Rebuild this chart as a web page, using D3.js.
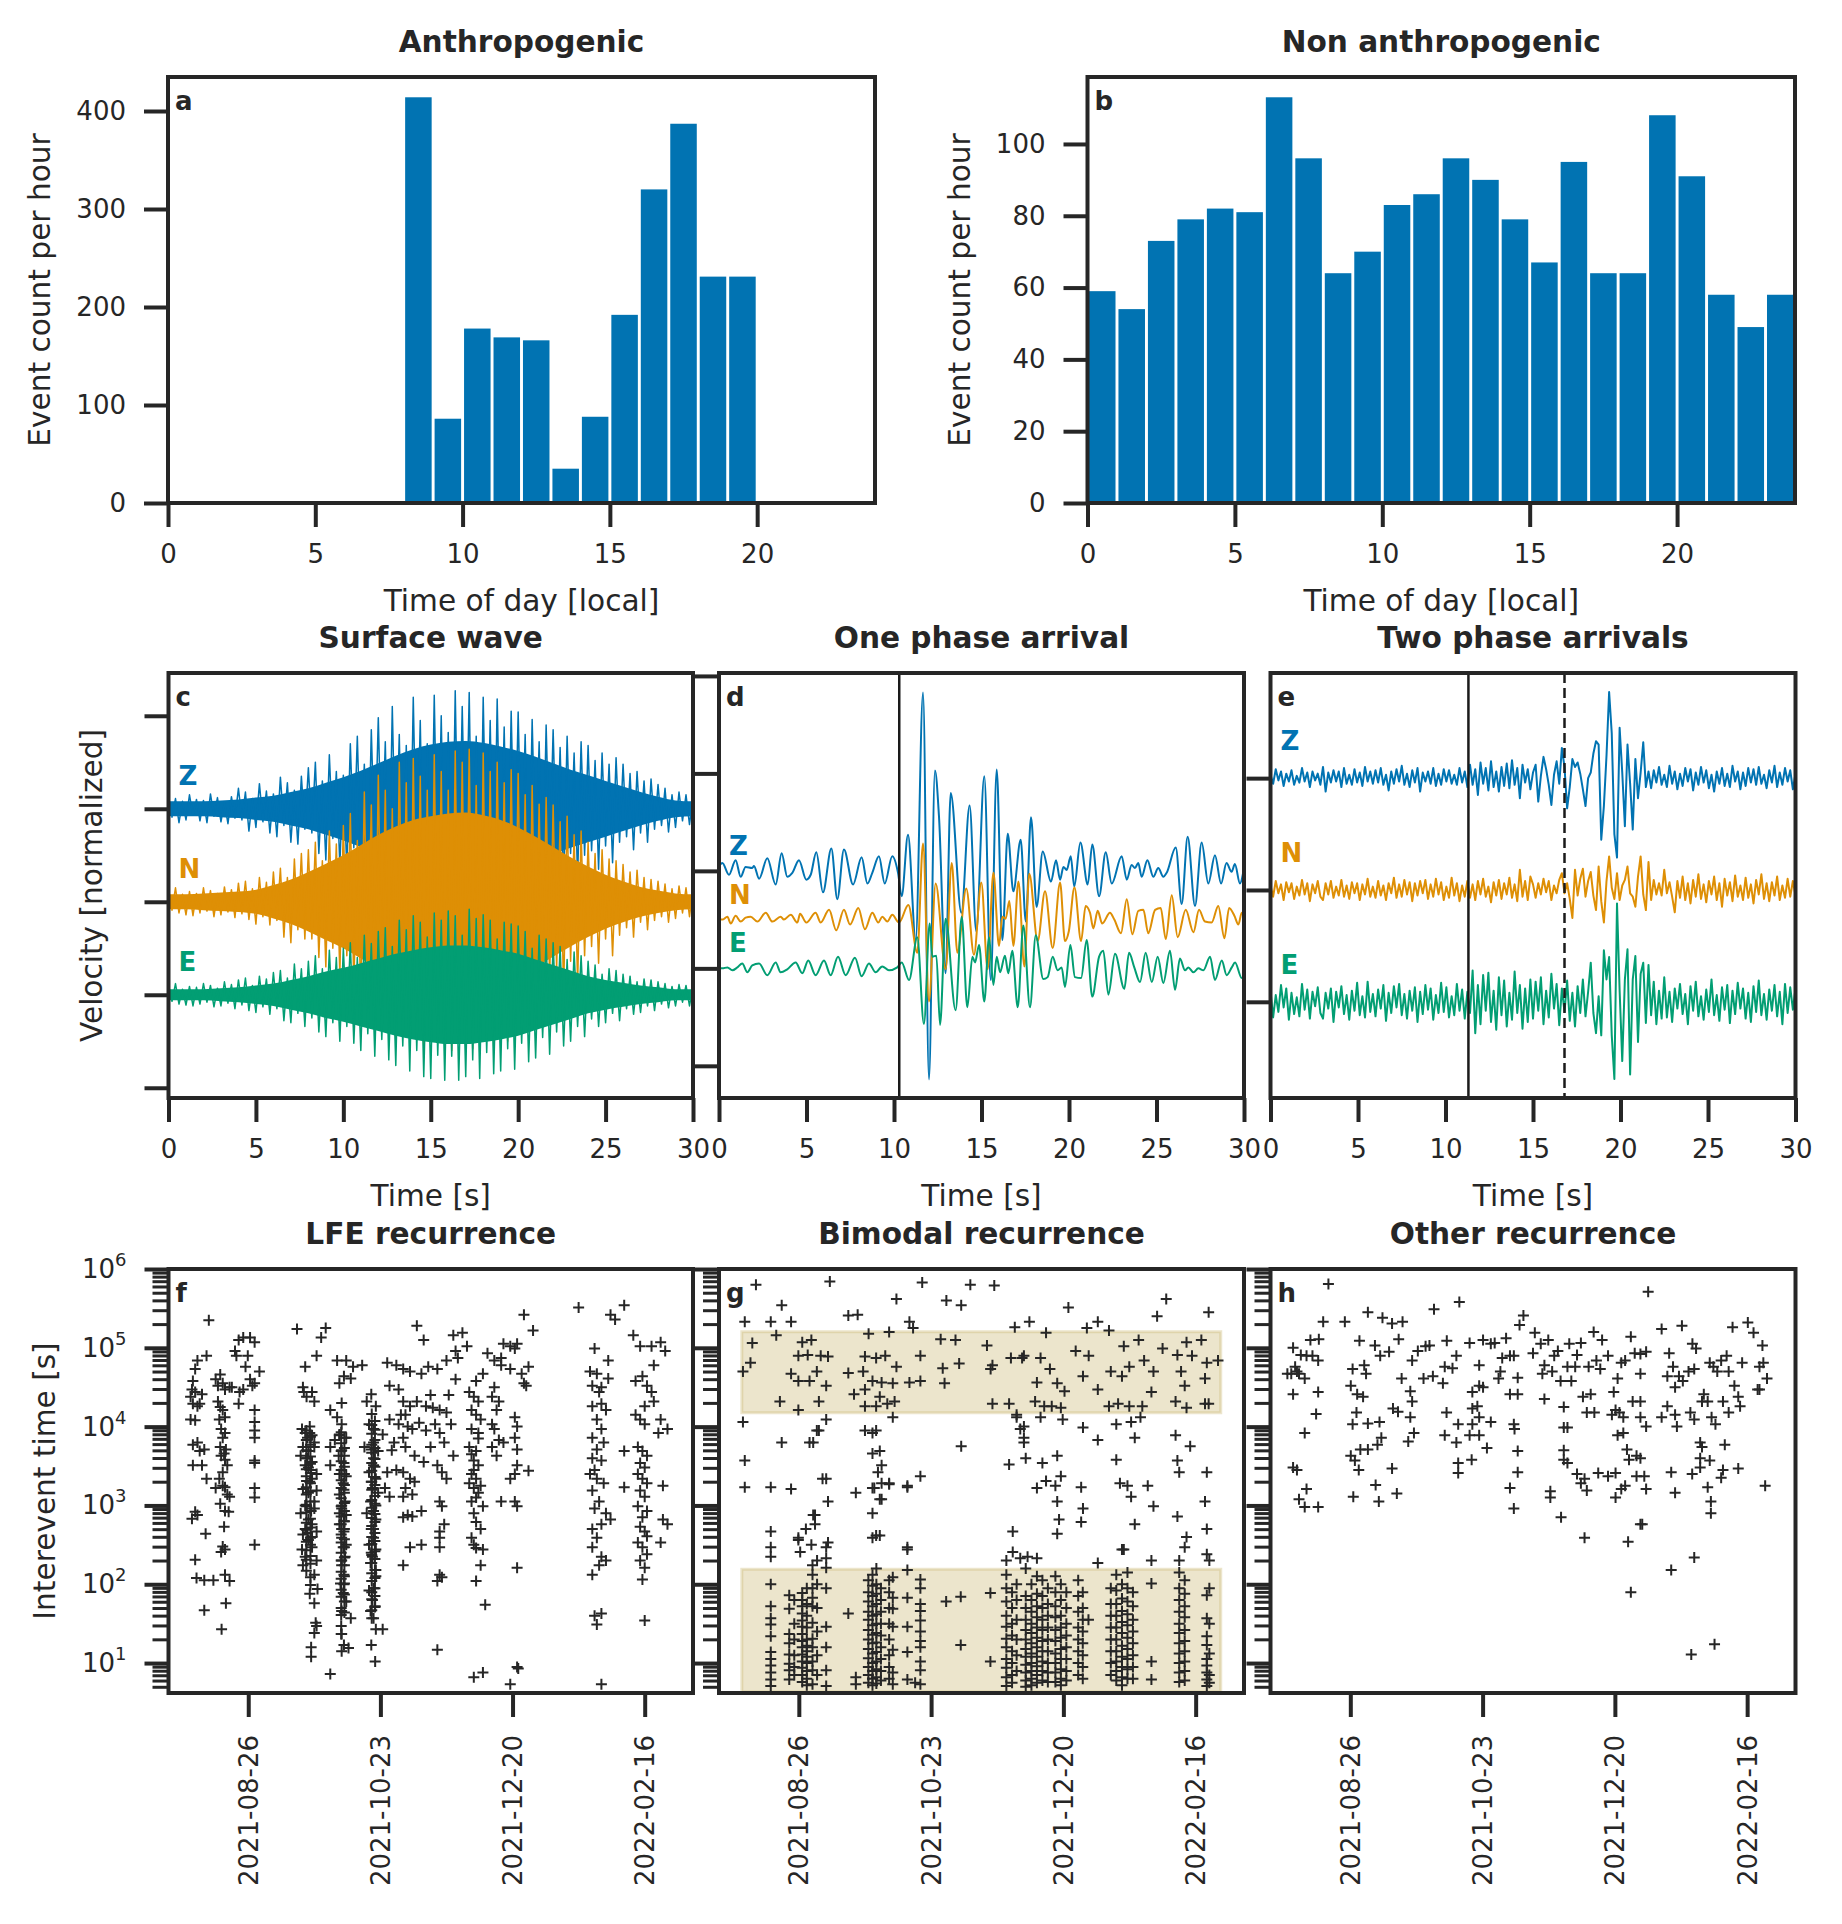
<!DOCTYPE html>
<html>
<head>
<meta charset="utf-8">
<script src="https://cdn.jsdelivr.net/npm/d3@7/dist/d3.min.js"></script>
<style>
  body { margin: 0; background: #fff; }
  svg { display: block; }
</style>
</head>
<body>
<svg id="fig" width="1842" height="1924"></svg>
<script>
// ---------- a / b : events per hour of day ----------
const hourBins = d3.range(24);
const anthroCounts = [0,0,0,0,0,0,0,0,414,86,178,169,166,35,88,192,320,387,231,231,0,0,0,0];
const naturalCounts = [59,54,73,79,82,81,113,96,64,70,83,86,96,90,79,67,95,64,64,108,91,58,49,58];
const hourTicks = [0,5,10,15,20];
const anthroYTicks = [0,100,200,300,400];
const naturalYTicks = [0,20,40,60,80,100];

// ---------- c : surface wave (hundredths of a trace unit) ----------
const surfCoreDt = 1;   // s
const surfDt = 0.2;     // s
const surfZCore = [8,8,8,9,10,12,14,18,22,28,34,41,49,57,64,69,72,73,71,67,62,56,49,42,36,30,24,18,13,9,8];
const surfNCore = [8,8,9,10,11,13,18,24,32,41,50,61,72,81,88,92,95,96,93,88,80,70,59,48,38,29,22,16,12,9,8];
const surfECore = [6,6,6,7,8,10,12,16,20,25,29,34,39,44,48,51,53,53,51,48,44,38,32,26,20,16,13,10,8,6,6];
const surfZ = [14,-9,11,-15,8,-12,15,-7,10,-13, 9,-15,16,-8,12,-14,7,-16,13,-10,
  22,-12,18,-24,11,-20,27,-14,19,-26, 16,-30,34,-18,28,-36,20,-38,35,-22,
  44,-26,50,-48,30,-55,58,-32,40,-60, 36,-64,70,-42,78,-55,48,-80,85,-50,
  98,-60,72,-100,110,-65,80,-112,68,-105, 120,-75,95,-118,70,-110,122,-85,100,-120,
  82,-125,127,-90,110,-70,125,-118,78,-126, 120,-80,95,-115,118,-72,88,-110,105,-68,
  104,-70,80,-100,96,-60,72,-92,90,-58, 85,-55,66,-82,78,-48,60,-75,72,-50,
  68,-45,52,-65,60,-40,48,-58,55,-36, 48,-30,38,-44,40,-26,30,-36,32,-22,
  26,-18,22,-25,15,-20,18,-13,15,-17, 12];
const surfN = [13,-9,15,-12,8,-14,11,-15,9,-12, 15,-10,12,-16,9,-14,16,-11,13,-17,
  20,-13,22,-19,14,-24,26,-16,21,-25, 32,-20,36,-38,26,-44,46,-30,52,-40,
  56,-40,64,-60,44,-70,76,-50,62,-78, 82,-58,95,-90,66,-108,118,-80,104,-128,
  136,-95,120,-142,100,-146,150,-110,128,-150, 154,-112,135,-156,120,-150,158,-118,140,-155,
  120,-160,162,-130,150,-115,164,-158,125,-162, 160,-118,140,-156,150,-110,128,-150,142,-105,
  138,-100,115,-132,125,-90,105,-120,112,-85, 104,-72,86,-98,92,-64,72,-88,76,-58,
  64,-48,52,-66,56,-40,46,-58,44,-36, 40,-28,32,-38,34,-22,26,-30,24,-20,
  22,-16,19,-22,14,-18,17,-12,15,-16, 14];
const surfE = [10,-7,12,-10,6,-11,9,-12,8,-10, 12,-8,10,-13,7,-12,14,-9,11,-15,
  16,-11,18,-17,10,-19,20,-13,17,-21, 24,-15,26,-28,18,-30,33,-20,28,-34,
  36,-25,42,-40,28,-45,48,-30,40,-50, 50,-34,56,-52,40,-60,64,-42,55,-66,
  68,-48,72,-70,52,-76,80,-55,70,-82, 85,-60,78,-88,62,-90,88,-65,80,-92,
  90,-66,85,-92,64,-88,92,-70,82,-90, 86,-62,80,-85,60,-82,78,-58,76,-80,
  74,-52,68,-72,50,-68,64,-46,60,-64, 56,-40,52,-55,38,-50,46,-34,42,-45,
  36,-26,32,-34,22,-30,28,-20,26,-28, 22,-15,20,-21,14,-19,17,-12,16,-17,
  14,-10,12,-14,9,-12,11,-8,10,-12, 9];

// ---------- d : one phase arrival, [time s, amplitude] ----------
const onePhaseZ = [[0,5],[0.19,8],[0.57,-4],[0.95,11],[1.24,-6],[1.52,4],[1.9,3],[2.0,5],[2.29,-8],[2.76,13],[3.24,-14],[3.58,18],[3.9,-6],[4.19,-2],[4.57,11],[4.99,-9],[5.24,-4],[5.56,19],[5.94,-22],[6.42,23],[6.76,-29],[7.14,22],[7.66,-14],[8.15,14],[8.48,-13],[8.76,-2],[9.14,15],[9.47,-13],[9.9,15],[10.23,-2],[10.44,-26],[10.8,37],[11.24,-71],[11.66,183],[12.0,-214],[12.34,103],[12.57,56],[12.95,-105],[13.24,80],[13.85,-43],[14.32,67],[14.7,-62],[15.16,97],[15.53,-112],[15.87,104],[16.19,-71],[16.5,38],[16.82,-21],[17.24,32],[17.53,-52],[17.83,55],[18.15,-37],[18.5,20],[18.97,-11],[19.26,11],[19.49,-9],[19.68,4],[19.87,1],[20.1,15],[20.3,-16],[20.65,29],[21.07,-14],[21.33,27],[21.72,-26],[22.1,19],[22.44,-13],[23.01,15],[23.3,-9],[23.58,6],[23.77,3],[23.96,8],[24.15,-6],[24.48,11],[24.82,-6],[25.1,3],[25.39,-6],[25.58,-2],[26.1,24],[26.44,-34],[26.78,35],[27.2,-36],[27.58,29],[27.96,-13],[28.34,16],[28.69,-13],[29.0,8],[29.29,-1],[29.48,7],[29.77,-13],[29.96,-1]];
const onePhaseN = [[0,0],[0.19,0],[0.48,3],[0.67,-4],[0.95,4],[1.24,-2],[1.52,2],[1.81,3],[2.19,-2],[2.67,7],[3.05,-2],[3.52,3],[3.71,0],[4.1,5],[4.48,-3],[4.63,6],[4.99,-3],[5.52,7],[5.81,-3],[6.29,10],[6.7,-11],[7.14,10],[7.49,-5],[7.96,12],[8.34,-10],[8.76,7],[9.1,-3],[9.33,3],[9.62,-2],[9.9,5],[10.29,-3],[10.82,15],[11.33,-34],[11.66,78],[12.0,-84],[12.38,37],[12.95,-51],[13.3,58],[13.62,-34],[14.13,32],[14.57,-36],[14.99,38],[15.35,-51],[15.68,48],[16.0,-27],[16.19,3],[16.38,1],[16.59,19],[16.82,-27],[17.11,39],[17.45,-48],[17.73,47],[18.21,-22],[18.63,29],[19.07,-29],[19.49,38],[19.77,-22],[19.99,-12],[20.31,33],[20.69,-22],[20.95,14],[21.2,7],[21.39,-9],[21.64,9],[21.9,-4],[22.34,7],[22.59,0],[22.97,-14],[23.3,21],[23.62,-15],[23.96,9],[24.25,10],[24.53,-14],[24.92,10],[25.24,12],[25.53,-20],[25.87,25],[26.21,-18],[26.67,10],[27.11,-13],[27.43,10],[27.77,-2],[28.15,-3],[28.53,14],[28.88,-19],[29.15,12],[29.45,4],[29.68,-5],[29.87,7],[30,4]];
const onePhaseE = [[0,0],[0.19,0],[0.48,1],[0.76,-2],[1.05,1],[1.33,5],[1.62,-4],[1.9,3],[2.29,5],[2.76,-7],[3.24,6],[3.52,-4],[3.9,-1],[4.38,6],[4.76,-5],[5.1,8],[5.52,-7],[6.0,8],[6.38,-7],[6.8,12],[7.24,-7],[7.77,11],[8.15,-8],[8.57,5],[8.95,-4],[9.33,2],[9.71,-2],[10.19,1],[10.44,6],[10.86,-12],[11.33,32],[11.71,-57],[12.04,46],[12.19,12],[12.42,13],[12.63,-58],[12.95,51],[13.52,-43],[13.87,53],[14.19,-40],[14.48,12],[14.63,6],[14.86,24],[15.16,-34],[15.43,32],[15.68,-17],[15.87,12],[16.06,-4],[16.34,13],[16.53,-5],[16.76,18],[17.07,-40],[17.39,44],[17.77,-40],[18.1,34],[18.53,-11],[18.78,-9],[19.07,12],[19.35,-2],[19.58,1],[19.77,-19],[20.08,24],[20.34,-9],[20.69,-10],[21.01,29],[21.33,-29],[21.72,12],[21.96,18],[22.25,-27],[22.63,15],[23.16,-21],[23.43,16],[23.73,1],[24.06,-14],[24.38,16],[24.73,-14],[25.07,12],[25.39,-15],[25.77,18],[26.06,-22],[26.34,10],[26.63,-2],[26.82,1],[27.11,-4],[27.39,0],[27.68,-2],[28.06,12],[28.34,-12],[28.73,8],[29.01,-7],[29.3,1],[29.49,6],[29.87,-10],[30,-5]];
const onePhasePicks = [10.3];

// ---------- e : two phase arrivals, sampled every 0.15 s ----------
const twoPhaseDt = 0.15;
const twoPhaseZ = [3,-5,8,-2,6,-7,4,-3,7,-6,2,-4,9,-3,5,-8,6,-2,4,-6,
  10,-12,5,-4,7,-3,6,-8,9,-5,3,-6,8,-4,5,-7,10,-3,6,-5,
  7,-4,9,-6,3,-11,6,-5,8,-3,11,-6,4,-8,7,-4,9,-12,5,-3,
  6,-5,9,-7,4,-6,8,-3,7,-5,3,-6,9,-4,6,-8,
  12,-6,8,-15,14,-5,9,-11,15,-8,6,-12,10,-7,13,-9,16,-6,9,-18,12,-4,8,-10,
  5,12,-21,2,19,8,-6,-24,3,15,-5,27,10,-27,-8,17,10,14,4,-10,-25,0,
  5,22,33,30,-55,-25,20,77,40,-50,-71,45,5,-43,30,-5,-46,17,-18,5,32,-8,6,
  -9,7,-4,10,-6,3,-8,11,-5,6,-10,4,-7,9,-3,8,-11,5,-6,10,-4,7,-9,3,-12,6,-5,9,-7,4,
  -8,11,-3,6,-10,5,-7,9,-4,8,-6,10,-5,3,-9,7,-4,11,-8,5,-6,9,-3,7,-10,4];
const twoPhaseN = [4,-6,8,-3,5,-9,7,-2,6,-8,3,-5,9,-4,6,-10,5,-3,8,-6,
  -9,6,-4,8,-7,3,-5,9,-6,4,-8,7,-3,6,-9,5,-4,10,-6,3,
  -7,8,-5,4,-9,6,-3,11,-7,5,-6,9,-4,7,-10,6,-5,8,-3,9,
  -8,5,-6,10,-4,7,-9,3,-7,11,-5,6,-10,4,-6,8,
  -7,5,-9,8,-4,10,-6,3,-11,7,-5,9,-8,6,-4,11,-7,5,-10,18,-6,8,-9,12,
  5,-7,6,-4,10,-2,8,-9,4,-3,9,15,-3,6,-8,-25,18,-5,10,19,-6,8,
  16,-5,-18,21,-10,-29,8,30,2,-8,15,-9,4,9,21,-3,-6,-15,12,30,-4,-18,25,-9,9,-4,6,-5,18,-3,7,-6,-20,8,-7,12,-9,6,-12,
  9,-6,14,-8,5,-11,8,-4,12,-9,6,-15,10,-5,7,-10,13,-6,4,-9,11,-7,5,-12,9,-4,14,-8,6,-10,7,-5,12,-9,4,-7,10,-6,8,-5];
const twoPhaseE = [10,-14,6,-9,15,-5,12,-16,8,-11,4,-13,16,-7,11,-15,9,-4,13,-10,
  -15,8,-6,12,-18,9,-5,14,-11,6,-16,10,-8,17,-12,5,-14,18,-9,7,
  -13,11,-6,15,-17,8,-10,14,-5,16,-12,7,-15,10,-8,13,-18,9,-11,15,
  -7,12,-16,6,-10,17,-9,13,-14,5,-12,16,-8,11,-15,9,
  -10,28,-28,15,-20,24,-8,26,-18,10,-25,22,-12,19,-22,8,-16,27,-10,15,-24,12,-18,20,
  -15,18,-8,22,-20,10,-14,25,-6,16,-21,12,-9,19,-17,8,-22,14,-10,20,-13,9,
  35,-10,-28,5,-30,46,20,40,-30,-69,88,10,-53,20,47,-65,20,41,-36,25,35,-19,33,-12,18,-20,10,-15,22,
  -14,9,-18,12,-6,16,-11,7,-20,14,-8,18,-13,5,-16,11,-9,20,-12,6,-17,13,-7,15,-19,10,-11,17,-6,12,
  -15,8,-18,14,-9,19,-12,7,-16,11,-8,15,-13,9,-20,16,-10,13,-7,12];
const twoPhasePicks = [11.31, 16.8];
const timeTicks = [0,5,10,15,20,25,30];

// ---------- f / g / h : interevent times, [days since 2021-07-22, log10 seconds] ----------
const recStartISO = "2021-07-22";
const recSpanDays = 230.2;
const dateTicks = ["2021-08-26","2021-10-23","2021-12-20","2022-02-16"];
const logMajor = [1e1,1e2,1e3,1e4,1e5,1e6];

const lfePts = [[17.7,5.35],[16.7,4.9],[12.7,4.84],[11.7,4.73],[10.7,4.58],[10.3,4.47],[9.7,4.38],[11.7,4.44],[14.7,4.41],[10.7,4.29],[12.7,4.26],[13.7,4.29],[9.7,4.09],[11.7,4.08],[10.7,3.77],[12.7,3.8],[15.7,3.71],[13.7,3.69],[10.7,3.51],[14.7,3.51],[16.7,3.34],[11.7,2.92],[12.7,2.88],[10.3,2.83],[16.3,2.64],[11.7,2.31],[12.3,2.08],[15.7,2.05],[19.7,2.05],[15.7,1.67],
[20.7,4.6],[21.7,4.52],[22.7,4.66],[23.8,4.55],[24.8,4.47],[26.8,4.5],[21.7,4.32],[22.7,4.25],[23.8,4.21],[24.8,4.12],[22.3,4.09],[23.1,3.97],[24.8,3.92],[23.8,3.86],[22.7,3.74],[25.2,3.71],[24.4,3.66],[23.1,3.63],[24.8,3.58],[25.8,3.51],[23.8,3.42],[22.3,3.34],[23.8,3.25],[20.7,3.22],[24.8,3.23],[25.8,3.14],[26.8,3.11],[22.7,3.02],[24.8,2.93],[26.4,2.92],[24.4,2.73],[23.8,2.48],[24.8,2.44],[23.1,2.41],[24.8,2.12],[26.8,2.04],[25.2,1.76],[23.3,1.43],
[27.8,4.5],[29.8,4.9],[29.2,4.96],[30.8,5.1],[32.8,5.13],[35.8,5.13],[37.8,5.07],[39.9,4.7],[34.8,4.9],[33.8,4.76],[31.2,4.44],[30.8,4.29],[32.8,4.47],[37.8,4.55],[35.8,4.6],[36.8,4.52],
[37.8,4.21],[37.8,4.06],[37.8,3.95],[37.8,3.86],[37.8,3.57],[37.8,3.54],[37.8,3.22],[37.8,3.1],[37.8,2.5],
[56.4,5.24],[69,5.25],[67,5.13],[65,4.9],[60,4.76],[59,4.5],[59.4,4.44],[60.6,4.38],[63,4.44],[64,4.32],[58.6,3.97],[60,3.92],[61,3.86],[62,3.92],[63,3.89],[59,3.74],[58,3.63],[61.4,3.69],[64,3.74],[60,3.51],[61.4,3.48],[62.6,3.45],[60.6,3.31],[63,3.34],[59,3.21],[61.4,3.16],[65,3.19],[58,2.9],[60.6,2.99],[62.6,2.93],[64,2.96],[61.4,2.82],[63,2.76],[60,2.7],[59,2.63],[65,2.67],[61.4,2.56],[63,2.47],[58.6,2.44],[60,2.35],[65,2.3],[59,2.24],[64,2.12],[65.4,1.94],[62,1.88],[64,1.76],[64.6,1.51],[65,1.47],[64,1.38],[62.6,1.2],[62.6,1.08],[61,3.6],[63,3.55],[62,3.3],[64,3.05],[61,2.65],[63,2.6],[60,3.0],[65,3.4],[62,4.0],[64,3.8],
[71,0.86],[74,4.84],[78,4.84],[81,4.76],[77,4.64],[75,4.55],[80,4.61],[71,4.21],[74,4.12],[76,4.03],[75,3.89],[78,3.86],[73,3.83],[71,3.74],[74.7,3.63],[77,3.54],[71,3.51],[76,3.45],[78,3.37],[76.7,3.28],[75,3.14],[77.5,3.05],[76,2.96],[78,2.88],[75,2.76],[77,2.67],[76,2.59],[76.7,2.47],[77.5,2.35],[76,2.24],[77,2.12],[75.5,2.01],[76.7,1.89],[78,1.78],[76,1.66],[80,1.57],[76,1.37],[77,1.23],[79,1.19],[76,1.15],[76,3.0],[77,3.2],[75,3.4],[76,3.7],[77,2.8],[75,2.9],[76,2.3],[77,2.0],[76,2.7],[78,2.5],[75,3.9],[76,4.3],
[85,4.78],[87,4.32],[89,4.41],[91,4.26],[88,4.03],[90,3.97],[86,3.74],[89,3.71],[92,3.69],[90,3.51],[88,3.42],[91,3.34],[89.5,3.22],[92,3.16],[88.7,3.05],[90,2.93],[87,2.9],[91,2.82],[89,2.7],[90,2.59],[88,2.5],[91,2.44],[89.5,2.35],[88.7,2.27],[91,2.18],[90,1.95],[88,1.92],[89.5,1.8],[90.7,1.72],[88.7,1.66],[90,1.57],[91,1.43],[94,1.43],[89,1.23],[90.7,1.02],[90,3.8],[89,3.3],[91,3.0],[90,2.7],[89,2.4],[91,2.1],[90,3.6],
[96,4.81],[100,4.78],[103,4.73],[109,5.28],[112,5.1],[106,4.7],[111,4.67],[114,4.76],[118,4.73],[122,4.84],[125,5.16],[129,5.19],[126,4.96],[127,4.87],[131,5.02],[97,4.52],[101,4.47],[103,4.32],[106,4.26],[104,4.15],[109,4.32],[113,4.26],[116,4.24],[119,4.21],[122,4.18],[97,4.09],[101,4.03],[105,4.0],[107,3.97],[103,3.86],[99,3.8],[104,3.74],[108,3.63],[117,4.03],[119,3.92],[121,3.8],[124,4.03],[125,3.63],[115,3.74],[118,3.51],[120,3.42],[122,3.34],[103,3.42],[106,3.34],[104,3.22],[107,3.14],[103,3.11],[105,2.88],[107,2.86],[111,2.93],[103,2.85],[97,3.11],[95,3.22],[96,3.42],[119,3.05],[120,2.99],[121,2.76],[119,2.67],[119,2.59],[119,2.47],[106,2.47],[103,2.24],[111,2.5],[119,2.12],[120,2.09],[118,2.04],[118,1.17],[110,4.05],[113,3.95],[102,4.15],[98,3.7],[112,3.55],[115,4.4],[123,4.4],[126,4.6],[100,3.45],[108,3.3],[94,3.9],
[135,4.58],[138,4.67],[132,4.44],[134,4.38],[136,4.32],[133,4.21],[135,4.15],[137,4.09],[133,3.97],[136,3.92],[132,3.74],[135,3.69],[134,3.57],[136,3.51],[133,3.4],[135,3.34],[132,3.28],[134,3.22],[137,3.25],[136,3.16],[133,3.05],[138,2.99],[135,2.79],[137,2.7],[133,2.59],[134,2.5],[135,2.46],[138,2.44],[137,2.24],[135,2.04],[139,1.74],[134,0.82],[138,0.88],[134,3.45],[135,3.1],[133,3.65],[136,3.85],[134,2.9],
[140,4.93],[143,4.84],[146,4.87],[147,5.05],[150,5.02],[153,5.05],[156,5.42],[160,5.22],[152,4.99],[146,4.78],[150,4.73],[155,4.67],[157,4.52],[143,4.5],[142,4.38],[145,4.32],[144,4.21],[142,4.03],[143,3.97],[145,3.83],[142,3.74],[147,3.8],[144,3.63],[152,4.12],[153,4.0],[152,3.86],[153,3.71],[153,3.51],[152,3.4],[158,3.44],[150,3.34],[146,3.05],[152,3.05],[153,2.99],[153,2.21],[150,0.73],[153,0.95],[153.5,0.93],[158,4.76],[156,4.55],
[180,5.51],[194,5.42],[196,5.36],[200,5.54],[204,5.16],[187,4.99],[193,4.84],[185,4.7],[188,4.67],[186,4.52],[190,4.5],[193,4.61],[189,4.44],[186,4.26],[190,4.29],[192,4.21],[188,4.09],[190,3.97],[186,3.86],[191,3.8],[188,3.71],[186,3.6],[190,3.57],[187,3.45],[185,3.4],[188,3.34],[191,3.28],[186,3.19],[189,3.05],[187,2.96],[192,2.9],[194,2.82],[190,2.76],[186,2.7],[188,2.59],[186,2.47],[190,2.35],[192,2.3],[189,2.24],[186,2.12],[187,1.6],[190,1.63],[188,1.49],[190,0.73],
[207,5.02],[212,5.02],[216,5.07],[218,4.96],[213,4.78],[205,4.58],[208,4.64],[210,4.52],[212,4.44],[213,4.32],[209,4.26],[205,4.15],[207,4.09],[209,4.03],[216,4.09],[219,3.97],[215,3.92],[206,3.74],[208,3.69],[210,3.63],[207,3.54],[209,3.48],[206,3.4],[208,3.34],[210,3.28],[207,3.19],[209,3.11],[206,2.99],[210,2.93],[208,2.85],[207,2.73],[209,2.67],[210,2.61],[206,2.53],[208,2.47],[210,2.38],[207,2.3],[209,2.21],[208,2.06],[217,3.25],[217,2.82],[219,2.76],[216,2.53],[200,3.69],[200,3.23],[209,1.54]];

// dense stripes of panel f: [day, [log10 s, ...]]
const lfeCols = [
 [60.5,[3.95,3.83,3.7,3.6,3.46,3.37,3.23,3.14,3.01,2.91,2.78,2.69,2.54,2.43,2.31,2.17]],
 [62.3,[3.87,3.77,3.62,3.53,3.41,3.28,3.18,3.05,2.96,2.83,2.72,2.59,2.5,2.36,2.26,2.09,1.99]],
 [75.8,[3.93,3.79,3.69,3.56,3.45,3.32,3.22,3.09,2.99,2.86,2.76,2.63,2.53,2.4,2.3,2.16,2.07,1.93,1.84,1.7,1.61,1.47,1.37]],
 [77.2,[3.86,3.73,3.63,3.49,3.4,3.26,3.16,3.03,2.93,2.8,2.7,2.57,2.47,2.34,2.24,2.1,2.01,1.87,1.78,1.64]],
 [89.2,[4.16,4.02,3.91,3.77,3.67,3.54,3.44,3.3,3.2,3.07,2.97,2.84,2.74,2.6,2.51,2.37,2.27,2.14,2.04,1.9,1.81,1.67,1.57]],
 [90.6,[4.07,3.96,3.83,3.73,3.59,3.49,3.36,3.26,3.12,3.02,2.89,2.79,2.65,2.55,2.42,2.32,2.18,2.08,1.95,1.85,1.71]]
];

const bimodalPts = [[16.2,5.8],[48.6,5.84],[89.1,5.83],[110.2,5.8],[120.7,5.79],[77.8,5.62],[99.7,5.6],[106.2,5.54],[27.5,5.54],[11.3,5.33],[22.7,5.33],[31.6,5.33],[56.7,5.41],[60.8,5.42],[83.5,5.33],[85.1,5.25],[153.2,5.51],[196.1,5.62],[192.1,5.4],[214.7,5.45],[129.7,5.26],[136.1,5.33],[143.4,5.19],[161.3,5.25],[166.1,5.33],[171,5.22],
[14.6,5.06],[13.8,4.81],[10.5,4.7],[25.1,5.16],[36.5,5.07],[40.5,5.1],[34.8,4.9],[38.9,4.91],[44.6,4.9],[47.8,4.89],[31.6,4.67],[34.8,4.58],[39.7,4.58],[42.9,4.7],[47,4.52],[26.7,4.32],[34.8,4.21],[43.8,4.32],[56.7,4.68],[65.6,5.18],[74.6,5.2],[64,4.89],[68.9,4.87],[72.9,4.9],[77.8,4.76],[63.2,4.7],[67.3,4.58],[71.3,4.56],[59.2,4.41],[64,4.47],[70.5,4.38],[76.2,4.55],[64,4.26],[68.9,4.26],[73.8,4.29],[77,4.32],[88.3,4.9],[88.3,4.58],[83.5,4.56],[98.9,4.55],[97.2,5.11],[103.7,5.1],[105.3,4.8],[98.1,4.74],[117.5,5.03],[119.9,4.78],[119.1,4.73],[119.9,4.29],[127.2,4.29],[128,4.87],[133.7,4.9],[141,4.87],[145.1,4.73],[139.4,4.56],[148.3,4.55],[151.5,4.45],[156.4,4.96],[162.1,4.9],[159.6,4.64],[166.1,4.47],[171.8,4.7],[177.5,5.02],[176.7,4.64],[179.9,4.76],[184,5.1],[186.4,4.84],[189.6,4.44],[194.5,4.99],[171,4.26],[175,4.29],[179.9,4.26],[185.6,4.26],[190.5,4.7],[201,4.91],[205,5.07],[207.4,4.9],[211.5,5.1],[213.9,4.81],[218.8,4.84],[213.1,4.61],[202.6,4.7],[204.2,4.52],[200.2,4.32],[205,4.24],[213.1,4.29],[138.6,4.32],[142.6,4.26],[145.9,4.26],[149.9,4.24],[130.5,4.15],[132.9,4.87],[141,4.12],[150.7,4.09],
[10.5,4.06],[11.3,3.57],[11.3,3.23],[22.7,3.23],[27.5,3.8],[31.6,3.21],[41.3,3.8],[43.8,3.95],[45.4,3.34],[47.8,3.05],[42.1,2.88],[38.1,2.7],[34.8,2.56],[47,4.09],[67.3,3.66],[71.3,3.51],[67.3,3.22],[71.3,3.28],[74.6,3.27],[70.5,3.08],[67.3,2.9],[68.9,2.62],[60,3.16],[82.6,3.23],[88.3,3.37],[106.2,3.75],[82.6,2.44],[127.2,3.52],[128.8,2.67],[134.5,3.6],[135.3,2.35],[133.7,3.8],[133.7,4.0],[141.8,3.54],[139.4,3.22],[143.4,3.31],[147.5,3.25],[148.3,3.63],[148.3,3.05],[149.1,2.82],[148.3,2.64],[149.9,3.37],[158.8,3.23],[159.6,2.96],[158.8,2.79],[159.6,3.99],[166.1,3.83],[174.2,3.58],[175.8,3.28],[179.1,3.25],[180.7,3.11],[182.3,2.76],[176.7,2.44],[188,3.25],[190.5,2.99],[201,3.57],[201.8,3.42],[201,2.86],[205,2.6],[204.2,2.47],[213.9,3.42],[213.1,3.05],[213.9,2.7],[213.9,2.38],[189.6,2.3],[166.1,2.27],[128.8,2.41],[132.1,2.33],[139.4,2.33],[177.5,2.44],[174.2,4.03],[182.3,3.86],[184.8,4.12],[180.7,4.06],[200.2,3.89],[206.6,3.75],[214.7,4.29],
[22.7,2.67],[22.7,2.47],[22.7,2.35],[34.8,2.59],[35.6,2.41],[41.3,2.88],[42.1,2.76],[40.5,2.5],[39.7,3.8],[42.9,3.95],[47,3.34],[47.8,2.53],[67.3,2.59],[70.5,2.62],[68.1,3.22],[69.7,3.42],[70.5,3.69],[71.3,3.08],[68.9,3.95],[67.3,3.92],[64,3.95],[74.6,3.28],[76.2,4.12],[82.6,3.25],[132.1,3.97],[133.7,3.86],[130.5,4.12]];

// dense short-interval columns of panel g: [day, [log10 s, ...]]
const bimodalCols = [
 [22.7,[2.0,1.72,1.57,1.49,1.34,1.14,1.05,0.97,0.88,0.79,0.71]],
 [30.8,[1.86,1.69,1.37,1.25,1.11,0.99,0.91,0.79]],
 [33,[1.8,1.5,1.3,1.1,0.95,0.85]],
 [36.5,[1.89,1.8,1.72,1.63,1.54,1.46,1.37,1.28,1.2,1.11,1.02,0.94,0.85,0.76]],
 [38.5,[1.95,1.75,1.6,1.45,1.3,1.22,1.15,1.08,1.0,0.9,0.8,0.72]],
 [41,[2.24,2.12,1.95,1.83,1.72,1.51,1.31,1.2,1.02,0.91,0.73]],
 [43,[2.3,2.0,1.7,1.4,1.1,0.85]],
 [47,[2.47,2.33,2.21,1.95,1.46,1.2,0.91,0.71]],
 [56.7,[1.63]],
 [60,[0.82,0.73]],
 [65.5,[2.05,1.9,1.78,1.65,1.55,1.42,1.3,1.18,1.06,0.95,0.85,0.75]],
 [67.3,[2.12,1.98,1.85,1.72,1.6,1.48,1.36,1.25,1.12,1.0,0.9,0.8,0.72]],
 [69,[2.2,2.0,1.88,1.75,1.62,1.5,1.38,1.26,1.14,1.02,0.92,0.82,0.74]],
 [71,[1.95,1.8,1.65,1.5,1.35,1.2,1.05,0.9,0.78]],
 [74.6,[2.05,1.9,1.7,1.5,1.3,1.1,0.95,0.8]],
 [76.2,[2.09,1.83,1.69,1.46,1.17,0.88,0.73]],
 [82.6,[2.47,2.18,1.83,1.46,1.14,0.79]],
 [86,[0.75]],
 [88.3,[2.06,1.95,1.75,1.66,1.54,1.4,1.28,1.2,1.02,0.91,0.73]],
 [99.6,[1.78]],
 [106,[1.84,1.23]],
 [119,[1.89,1.02]],
 [126,[2.3,2.12,1.95,1.78,1.6,1.46,1.31,1.2,1.05,0.94,0.82,0.71]],
 [128.5,[1.9,1.7,1.5,1.35,1.15,1.0,0.85,0.75]],
 [130.5,[2.0,1.8,1.55,1.3,1.1,0.9]],
 [134.5,[2.2,1.85,1.7,1.55,1.42,1.3,1.18,1.08,0.98,0.88,0.78,0.7]],
 [137,[2.0,1.8,1.65,1.5,1.38,1.25,1.12,1.0,0.9,0.8,0.72]],
 [139.4,[2.1,1.88,1.72,1.58,1.45,1.32,1.2,1.08,0.96,0.85,0.75]],
 [141.8,[2.05,1.85,1.7,1.55,1.42,1.28,1.15,1.02,0.9,0.78]],
 [144.2,[1.95,1.75,1.6,1.45,1.3,1.15,1.0,0.88,0.76]],
 [147.5,[2.1,1.9,1.72,1.58,1.42,1.28,1.12,1.0,0.88,0.76]],
 [149.9,[2.0,1.8,1.6,1.45,1.32,1.18,1.05,0.92,0.8,0.72]],
 [152.3,[1.9,1.7,1.5,1.35,1.2,1.05,0.9,0.78]],
 [157.5,[2.05,1.85,1.65,1.45,1.3,1.15,1.0,0.85]],
 [159.5,[1.9,1.7,1.55,1.4,1.25,1.1,0.95,0.8]],
 [162,[1.55]],
 [171.8,[1.95,1.75,1.6,1.45,1.3,1.15,1.0,0.85]],
 [174.2,[2.12,1.92,1.75,1.6,1.45,1.3,1.15,1.02,0.9,0.78]],
 [176.7,[2.0,1.82,1.66,1.52,1.38,1.22,1.08,0.95,0.82,0.72]],
 [179.1,[2.15,1.95,1.78,1.62,1.48,1.32,1.18,1.05,0.92,0.8]],
 [181.5,[1.9,1.72,1.55,1.4,1.25,1.1,0.95,0.8]],
 [189.6,[2.01,1.02,0.79]],
 [201.8,[2.3,2.15,1.95,1.8,1.65,1.5,1.38,1.25,1.12,1.0,0.88,0.76]],
 [204.2,[2.05,1.88,1.72,1.58,1.42,1.28,1.15,1.02,0.9,0.78]],
 [213.9,[1.86,1.57,1.34,1.23,1.05,0.97,0.88,0.79,0.71]],
 [215,[2.3,1.95,1.5,1.12,0.85,0.75]]
];
const bimodalBandDays = [10, 220];
const bimodalBands = [[15000, 160000], [4.3, 155]];

const otherPts = [[25.4,5.81],[23.1,5.33],[32.6,5.33],[42.7,5.45],[49.1,5.38],[53.3,5.31],[57.9,5.33],[71.7,5.49],[82.8,5.58],[110.9,5.41],[109.2,5.29],[165.6,5.71],[171.5,5.24],[180.4,5.28],[202.6,5.26],[209.3,5.32],[211.8,5.19],[215.7,5.03],[158,5.14],[141.7,5.2],[145.4,5.1],[115.9,5.19],
[9.9,5.0],[13.3,4.91],[15.8,4.9],[18.4,4.9],[20.9,4.84],[17.5,5.1],[21.2,5.11],[10.8,4.76],[9.1,4.67],[12.5,4.67],[15,4.61],[9.9,4.41],[20.9,4.44],[20,4.16],[15,3.92],[9.9,3.48],[11.6,3.45],[15.8,3.21],[12.5,3.08],[15,2.98],[20.9,2.98],[7.4,4.67],[11.6,4.7],
[39,5.09],[36,4.73],[41.1,4.78],[35.2,4.52],[41.9,4.67],[38,4.41],[40.6,4.38],[37.7,4.18],[36,4.03],[42.7,4.04],[47.8,4.06],[48.6,3.86],[46.9,3.77],[35.2,3.63],[39.4,3.71],[42.7,3.71],[37,3.57],[38.7,3.45],[53.3,3.47],[46.1,3.26],[36.3,3.11],[47.5,3.05],[55.4,3.15],[45.8,5.03],[48.1,4.9],[52,4.95],[56.2,5.11],[53.7,4.23],[55.9,4.19],[57.5,4.61],[61.3,4.45],[62.1,4.32],[61.3,4.12],[60.4,3.81],[62.9,3.92],[62.1,4.84],[64.6,4.96],[68,5.02],[69.7,5.03],[67.1,4.61],[71.2,4.64],[75.6,4.55],[76.4,4.76],[79.8,4.74],[77.3,5.09],[81.5,4.9],[77.2,4.18],[76.4,3.89],[81.5,3.8],[82.3,4.03],[82.3,3.54],[82.3,3.41],
[87.3,3.89],[88.5,4.03],[88.5,4.23],[88.5,4.44],[90.7,4.26],[91.5,4.52],[93.2,4.5],[91.5,4.78],[87.3,5.06],[93.2,5.1],[96.6,5.05],[98.3,5.06],[101.6,4.87],[105,4.9],[106.7,4.9],[103.3,5.12],[91.5,4.12],[96.6,4.06],[94.9,3.73],[88.2,3.58],[91.5,3.89],[100.8,4.7],[100,4.61],[105,4.41],[108.4,4.41],[108.4,4.62],[106.7,4.03],[107,3.97],[108.4,3.69],[108.4,3.42],[105,3.22],[106.7,2.96],
[115.1,4.93],[118.5,5.05],[121.8,5.1],[120.1,4.78],[119.2,4.67],[123.5,4.7],[126,4.96],[124.4,4.9],[127.2,4.58],[130.2,4.76],[131.9,4.58],[133.6,4.76],[131,5.05],[134.4,4.91],[136.1,5.06],[137,4.38],[139.5,4.76],[142.9,4.84],[144.6,4.73],[138.7,4.18],[142,4.18],[140.4,4.41],[120.1,4.35],[128.6,4.25],[128.6,3.99],[130.2,3.99],[128.6,3.7],[128.6,3.58],[130.2,3.54],[122.7,3.18],[122.7,3.1],[127.4,2.85],[134.4,3.4],[137.7,3.34],[136.1,3.28],[138.7,3.19],[137.7,2.59],[143.7,3.41],[148,3.37],[151.3,3.41],[151.3,3.1],
[149.7,4.15],[151.3,4.21],[153,4.18],[150.5,4.44],[152.2,4.61],[153.8,4.81],[155.5,4.84],[148,4.9],[152.2,3.89],[154.7,4.12],[154.7,3.92],[156.3,3.71],[157.2,3.58],[160.5,3.63],[162.2,3.6],[160.5,3.37],[163.9,3.37],[164.7,3.21],[155.5,3.25],[153.8,3.21],[156.8,2.54],[158,1.9],[162.2,2.76],[163,2.76],[159.7,4.93],[162.2,4.92],[164.7,4.95],[162.2,4.67],[162.2,4.32],[162.2,4.12],[164.7,4.0],[158.8,4.32],
[174.8,4.93],[176.5,4.76],[174,4.64],[177.4,4.5],[179.1,4.64],[180.8,4.58],[183.3,4.7],[185,5.05],[186.6,4.99],[174,4.26],[171.5,4.12],[177.4,4.15],[178.2,4.0],[184.1,4.18],[185.8,4.09],[185.8,4.73],[189.2,4.32],[190,4.41],[191.7,4.32],[192.6,4.81],[194.2,4.76],[195.9,4.7],[197.6,4.84],[200,4.9],[200.9,4.7],[203.4,4.52],[205.1,4.38],[205.9,4.26],[200.9,4.18],[193.4,4.12],[195.1,4.03],[198.4,4.32],[206.8,4.81],[214.4,4.76],[216.1,4.81],[217.7,4.61],[213.6,4.47],[214.4,4.47],[188.4,3.8],[189.2,3.74],[188.4,3.6],[192.6,3.57],[199.2,3.77],[198.4,3.45],[205.1,3.47],[197.6,3.35],[191.7,3.23],[175.7,3.42],[184.9,3.4],[188.4,3.48],[177.4,3.16],[193.1,3.05],[193.1,2.9],[216.9,3.25],[175.7,2.18],[185.8,2.34],[184.5,1.11],[194.7,1.24]];

// ======================= drawing =======================
const ink = "#262626";
const colZ = "#0173b2", colN = "#de8f05", colE = "#029e73";
const FONT = "DejaVu Sans, sans-serif";
const svg = d3.select("#fig");
svg.append("rect").attr("width", 1842).attr("height", 1924).attr("fill", "#fff");
const defs = svg.append("defs");
let clipCount = 0;

function makePanel(x0, y0, w, h) {
  const g = svg.append("g").attr("transform", `translate(${x0},${y0})`);
  const id = "clip" + (clipCount++);
  defs.append("clipPath").attr("id", id).append("rect").attr("width", w).attr("height", h);
  const plot = g.append("g").attr("clip-path", `url(#${id})`);
  return {g, plot, w, h, x0, y0};
}

function styleAxis(ax) {
  ax.attr("font-size", 26).attr("font-family", FONT);
  ax.select(".domain").remove();
  ax.selectAll(".tick line").attr("stroke", ink).attr("stroke-width", 4);
  ax.selectAll(".tick text").attr("fill", ink);
  return ax;
}

function txt(sel, size, bold) {
  return sel.attr("font-family", FONT).attr("font-size", size)
    .attr("font-weight", bold ? "bold" : "normal").attr("fill", ink);
}

function finish(p, title, letter) {
  p.g.append("rect").attr("width", p.w).attr("height", p.h)
    .attr("fill", "none").attr("stroke", ink).attr("stroke-width", 4);
  txt(p.g.append("text"), 29.6, true).attr("x", p.w / 2).attr("y", -25)
    .attr("text-anchor", "middle").text(title);
  txt(p.g.append("text"), 26, true).attr("x", 7).attr("y", 33).text(letter);
}

function yLabel(p, xAbs, label) {
  txt(p.g.append("text"), 29.6).attr("transform", `translate(${xAbs - p.x0},${p.h / 2}) rotate(-90)`)
    .attr("text-anchor", "middle").attr("dy", "0.26em").text(label);
}

function xLabel(p, label) {
  txt(p.g.append("text"), 29.6).attr("x", p.w / 2).attr("y", p.h + 108)
    .attr("text-anchor", "middle").text(label);
}

// ---------- row 1 ----------
function barPanel(x0, w, counts, yTicks, title, letter, labelX) {
  const p = makePanel(x0, 77, w, 426);
  const x = d3.scaleLinear().domain([0, 24]).range([0, w]);
  const y = d3.scaleLinear().domain([0, d3.max(counts) * 1.05]).range([p.h, 0]);
  p.plot.selectAll("rect").data(hourBins.filter(hr => counts[hr] > 0)).join("rect")
    .attr("x", hr => x(hr + 0.05))
    .attr("width", x(0.9) - x(0))
    .attr("y", hr => y(counts[hr]))
    .attr("height", hr => y(0) - y(counts[hr]))
    .attr("fill", colZ);
  styleAxis(p.g.append("g").attr("transform", `translate(0,${p.h})`)
    .call(d3.axisBottom(x).tickValues(hourTicks).tickSize(24).tickPadding(18)));
  styleAxis(p.g.append("g")
    .call(d3.axisLeft(y).tickValues(yTicks).tickSize(24).tickPadding(18)));
  xLabel(p, "Time of day [local]");
  yLabel(p, labelX, "Event count per hour");
  finish(p, title, letter);
}
barPanel(168, 707, anthroCounts, anthroYTicks, "Anthropogenic", "a", 42.5);
barPanel(1087.5, 707.5, naturalCounts, naturalYTicks, "Non anthropogenic", "b", 962);

// ---------- row 2 ----------
const colX = [168.5, 719, 1270.5];
const colW = [524.5, 525, 525];
const row2Top = 673, row2H = 425;

function wavePanel(i, yDomain, yTicks) {
  const p = makePanel(colX[i], row2Top, colW[i], row2H);
  p.x = d3.scaleLinear().domain([0, 30]).range([0, p.w]);
  p.y = d3.scaleLinear().domain(yDomain).range([p.h, 0]);
  styleAxis(p.g.append("g").attr("transform", `translate(0,${p.h})`)
    .call(d3.axisBottom(p.x).tickValues(timeTicks).tickSize(24).tickPadding(18)));
  styleAxis(p.g.append("g")
    .call(d3.axisLeft(p.y).tickValues(yTicks).tickFormat("").tickSize(24)));
  xLabel(p, "Time [s]");
  return p;
}

function compLabel(p, name, col, yPos) {
  txt(p.g.append("text"), 26, true).attr("fill", col).attr("x", 10).attr("y", yPos).text(name);
}

// c
{
  const p = wavePanel(0, [-0.11, 4.46], [0, 1, 2, 3, 4]);
  const comps = [["Z", surfZCore, surfZ, 3, colZ], ["N", surfNCore, surfN, 2, colN], ["E", surfECore, surfE, 1, colE]];
  comps.forEach(([name, core, spk, off, col]) => {
    p.plot.append("path").datum(core).attr("fill", col)
      .attr("d", d3.area().x((v, k) => p.x(k * surfCoreDt))
        .y0(v => p.y(off - v / 100)).y1(v => p.y(off + v / 100)).curve(d3.curveMonotoneX));
    p.plot.append("path").datum(spk).attr("fill", "none").attr("stroke", col)
      .attr("stroke-width", 1.5).attr("stroke-linejoin", "round")
      .attr("d", d3.line().x((v, k) => p.x(k * surfDt)).y(v => p.y(off + v / 100)));
  });
  comps.forEach(([name, , , off, col]) => compLabel(p, name, col, p.y(off) - 24));
  yLabel(p, 94, "Velocity [normalized]");
  finish(p, "Surface wave", "c");
}

// d
{
  const p = wavePanel(1, [-0.33, 4.03], [0, 1, 2, 3, 4]);
  const comps = [["Z", onePhaseZ, 2, colZ], ["N", onePhaseN, 1.5, colN], ["E", onePhaseE, 1, colE]];
  comps.forEach(([name, pts, off, col]) => {
    p.plot.append("path").datum(pts).attr("fill", "none").attr("stroke", col)
      .attr("stroke-width", 2).attr("stroke-linejoin", "round")
      .attr("d", d3.line().x(d => p.x(d[0])).y(d => p.y(off + d[1] / 100)).curve(d3.curveMonotoneX));
  });
  onePhasePicks.forEach(t => p.plot.append("line").attr("x1", p.x(t)).attr("x2", p.x(t))
    .attr("y1", 0).attr("y2", p.h).attr("stroke", "#1a1a1a").attr("stroke-width", 2.5));
  comps.forEach(([name, , off, col]) => compLabel(p, name, col, p.y(off) - 16));
  finish(p, "One phase arrival", "d");
}

// e
{
  const p = wavePanel(2, [-0.86, 2.94], [0, 1, 2]);
  const comps = [["Z", twoPhaseZ, 2, colZ], ["N", twoPhaseN, 1, colN], ["E", twoPhaseE, 0, colE]];
  comps.forEach(([name, vals, off, col]) => {
    p.plot.append("path").datum(vals).attr("fill", "none").attr("stroke", col)
      .attr("stroke-width", 2).attr("stroke-linejoin", "round")
      .attr("d", d3.line().x((v, k) => p.x(k * twoPhaseDt)).y(v => p.y(off + v / 100)));
  });
  twoPhasePicks.forEach((t, k) => p.plot.append("line").attr("x1", p.x(t)).attr("x2", p.x(t))
    .attr("y1", 0).attr("y2", p.h).attr("stroke", "#1a1a1a").attr("stroke-width", 2.5)
    .attr("stroke-dasharray", k === 1 ? "10,5" : null));
  comps.forEach(([name, , off, col]) => compLabel(p, name, col, p.y(off) - 28));
  finish(p, "Two phase arrivals", "e");
}

// ---------- row 3 ----------
const row3Top = 1269, row3H = 424;
const dayMs = 864e5;
const recStart = new Date(recStartISO + "T00:00:00Z").getTime();
const toDate = d => new Date(recStart + d * dayMs);
const plusPath = "M-5.5,0H5.5M0,-5.5V5.5";
const unstack = cols => cols.flatMap(([d, vs]) => vs.map(v => [d, v]));

function recurrencePanel(i, pts, title, letter, withLabels, extra) {
  const p = makePanel(colX[i], row3Top, colW[i], row3H);
  const x = d3.scaleUtc().domain([toDate(0), toDate(recSpanDays)]).range([0, p.w]);
  const y = d3.scaleLog().domain([4.17, 1e6]).range([p.h, 0]);
  if (extra) extra(p, x, y);
  p.plot.selectAll("path.pt").data(pts).join("path").attr("class", "pt")
    .attr("d", plusPath)
    .attr("transform", d => `translate(${x(toDate(d[0]))},${y(Math.pow(10, d[1]))})`)
    .attr("fill", "none").attr("stroke", ink).attr("stroke-width", 2);

  const xa = styleAxis(p.g.append("g").attr("transform", `translate(0,${p.h})`)
    .call(d3.axisBottom(x).tickValues(dateTicks.map(s => new Date(s + "T00:00:00Z")))
      .tickFormat(d3.utcFormat("%Y-%m-%d")).tickSize(24).tickPadding(18)));
  xa.selectAll(".tick text").attr("x", 0).attr("y", 0).attr("dy", "0.35em")
    .attr("text-anchor", "end").attr("transform", "translate(0,42) rotate(-90)");

  const minor = y.ticks().filter(v => !logMajor.includes(v));
  const ma = styleAxis(p.g.append("g").call(d3.axisLeft(y).tickValues(minor).tickFormat("").tickSize(16)));
  ma.selectAll(".tick line").attr("stroke-width", 3);
  styleAxis(p.g.append("g").call(d3.axisLeft(y).tickValues(logMajor).tickFormat("").tickSize(24)));
  if (withLabels) {
    logMajor.forEach(v => {
      const t = txt(p.g.append("text"), 26).attr("x", -42).attr("y", y(v)).attr("dy", 9)
        .attr("text-anchor", "end");
      t.append("tspan").text("10");
      t.append("tspan").attr("dy", -12).attr("font-size", 18).text(Math.round(Math.log10(v)));
    });
    yLabel(p, 47, "Interevent time [s]");
  }
  finish(p, title, letter);
}

recurrencePanel(0, lfePts.concat(unstack(lfeCols)), "LFE recurrence", "f", true);
recurrencePanel(1, bimodalPts.concat(unstack(bimodalCols)),
  "Bimodal recurrence", "g", false, (p, x, y) => {
    bimodalBands.forEach(([lo, hi]) => {
      p.plot.append("rect")
        .attr("x", x(toDate(bimodalBandDays[0])))
        .attr("width", x(toDate(bimodalBandDays[1])) - x(toDate(bimodalBandDays[0])))
        .attr("y", y(hi)).attr("height", y(lo) - y(hi))
        .attr("fill", "rgb(200,180,110)").attr("fill-opacity", 0.35)
        .attr("stroke", "rgb(200,180,110)").attr("stroke-opacity", 0.35).attr("stroke-width", 3);
    });
  });
recurrencePanel(2, otherPts, "Other recurrence", "h", false);
</script>
</body>
</html>
